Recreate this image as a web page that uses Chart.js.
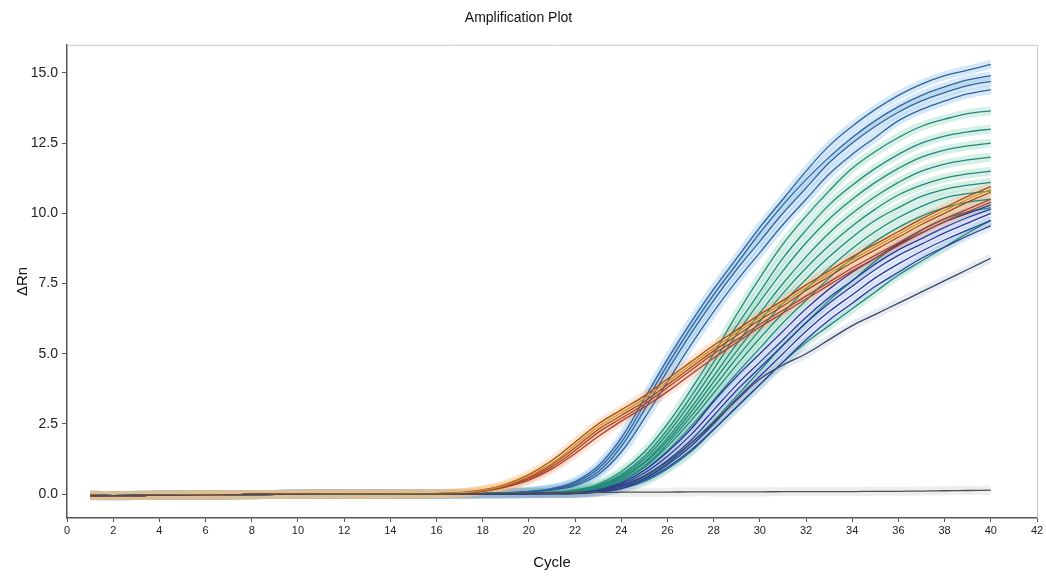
<!DOCTYPE html>
<html>
<head>
<meta charset="utf-8">
<title>Amplification Plot</title>
<script src="https://cdn.jsdelivr.net/npm/chart.js@4/dist/chart.umd.min.js"></script>
<style>
    html, body { margin: 0; padding: 0; background: #fff; }
    #box { width: 1046px; height: 576px; }
</style>
</head>
<body>
<div id="box"><canvas id="chart"></canvas></div>
<script>
'use strict'

var cycles = [1,2,3,4,5,6,7,8,9,10,11,12,13,14,15,16,17,18,19,20,21,22,23,24,25,26,27,28,29,30,31,32,33,34,35,36,37,38,39,40];
var xTicks = [0,2,4,6,8,10,12,14,16,18,20,22,24,26,28,30,32,34,36,38,40,42];
var yTicks = [0, 2.5, 5, 7.5, 10, 12.5, 15];

// blue wells (earliest, highest plateau)
var blue1 = [-0.05,-0.06,-0.05,-0.04,-0.04,-0.03,-0.02,-0.02,-0.01,-0.01,0,0,0,0,0.01,0.01,0.02,0.03,0.05,0.1,0.2,0.45,1.0,2.0,3.4,4.8,6.1,7.3,8.4,9.5,10.5,11.5,12.4,13.1,13.7,14.2,14.6,14.9,15.1,15.3];
var blue2 = [-0.04,-0.05,-0.05,-0.04,-0.03,-0.03,-0.02,-0.01,-0.01,0,0,0,0,0.01,0.01,0.01,0.02,0.03,0.05,0.09,0.18,0.4,0.9,1.85,3.2,4.6,5.9,7.1,8.2,9.3,10.3,11.2,12.0,12.7,13.3,13.8,14.2,14.5,14.75,14.9];
var blue3 = [-0.05,-0.05,-0.04,-0.04,-0.03,-0.02,-0.02,-0.01,-0.01,0,0,0,0,0,0.01,0.01,0.01,0.02,0.04,0.08,0.16,0.35,0.8,1.7,3.0,4.4,5.7,6.9,8.0,9.0,10.0,10.9,11.8,12.5,13.1,13.6,14.0,14.3,14.55,14.7];
var blue4 = [-0.04,-0.05,-0.05,-0.04,-0.03,-0.03,-0.02,-0.02,-0.01,-0.01,0,0,0,0,0,0.01,0.01,0.02,0.04,0.07,0.14,0.3,0.7,1.5,2.7,4.0,5.3,6.5,7.6,8.6,9.6,10.5,11.4,12.1,12.7,13.3,13.7,14.0,14.25,14.4];

// red / orange wells
var red1 = [-0.05,-0.06,-0.05,-0.04,-0.04,-0.03,-0.02,-0.02,-0.01,-0.01,0,0,0,0,0.01,0.02,0.05,0.15,0.35,0.7,1.2,1.85,2.5,3.0,3.5,4.1,4.7,5.3,5.85,6.4,6.9,7.45,7.95,8.45,8.9,9.35,9.8,10.2,10.6,10.95];
var red2 = [-0.04,-0.05,-0.05,-0.04,-0.03,-0.03,-0.02,-0.01,-0.01,0,0,0,0,0.01,0.01,0.02,0.04,0.12,0.3,0.6,1.05,1.65,2.3,2.8,3.3,3.9,4.5,5.1,5.65,6.2,6.7,7.25,7.75,8.25,8.7,9.15,9.6,10.0,10.4,10.75];
var red3 = [-0.05,-0.05,-0.04,-0.04,-0.03,-0.02,-0.02,-0.01,-0.01,0,0,0,0,0,0.01,0.01,0.03,0.1,0.25,0.5,0.9,1.45,2.05,2.6,3.1,3.65,4.25,4.85,5.4,5.95,6.45,6.95,7.45,7.95,8.4,8.85,9.3,9.7,10.05,10.4];
var orange1 = [-0.04,-0.05,-0.05,-0.04,-0.03,-0.03,-0.02,-0.02,-0.01,-0.01,0,0,0,0,0.01,0.02,0.04,0.13,0.32,0.65,1.1,1.75,2.4,2.9,3.4,4.0,4.6,5.2,5.75,6.3,6.8,7.35,7.85,8.35,8.8,9.25,9.7,10.1,10.5,10.85];
var brown1 = [-0.05,-0.05,-0.05,-0.04,-0.03,-0.02,-0.02,-0.01,-0.01,0,0,0,0,0,0.01,0.01,0.03,0.11,0.27,0.55,0.97,1.55,2.2,2.7,3.2,3.8,4.4,5.0,5.5,6.05,6.55,7.05,7.55,8.05,8.5,8.95,9.4,9.8,10.15,10.5];

// teal wells
var teal1 = [-0.05,-0.06,-0.05,-0.04,-0.04,-0.03,-0.02,-0.02,-0.01,-0.01,0,0,0,0,0.01,0.01,0.02,0.02,0.03,0.04,0.07,0.15,0.35,0.8,1.5,2.5,3.7,5.0,6.4,7.7,8.9,9.9,10.8,11.6,12.2,12.7,13.1,13.35,13.55,13.65];
var teal2 = [-0.04,-0.05,-0.05,-0.04,-0.03,-0.03,-0.02,-0.01,-0.01,0,0,0,0,0.01,0.01,0.01,0.02,0.02,0.03,0.04,0.06,0.12,0.3,0.7,1.35,2.3,3.45,4.7,6.0,7.2,8.4,9.4,10.3,11.0,11.6,12.1,12.5,12.75,12.9,13.0];
var teal3 = [-0.05,-0.05,-0.04,-0.04,-0.03,-0.02,-0.02,-0.01,-0.01,0,0,0,0,0,0.01,0.01,0.01,0.02,0.03,0.04,0.06,0.1,0.28,0.65,1.25,2.15,3.25,4.45,5.7,6.85,7.95,8.95,9.8,10.5,11.1,11.6,12.0,12.25,12.4,12.5];
var teal4 = [-0.04,-0.05,-0.05,-0.04,-0.03,-0.03,-0.02,-0.02,-0.01,-0.01,0,0,0,0,0,0.01,0.01,0.02,0.02,0.03,0.05,0.1,0.25,0.6,1.15,2.0,3.05,4.2,5.35,6.45,7.5,8.45,9.3,10.0,10.6,11.1,11.5,11.75,11.9,12.0];
var teal5 = [-0.05,-0.05,-0.05,-0.04,-0.03,-0.02,-0.02,-0.01,-0.01,0,0,0,0,0,0.01,0.01,0.02,0.02,0.02,0.03,0.04,0.08,0.22,0.55,1.1,1.9,2.9,4.0,5.1,6.15,7.15,8.05,8.85,9.55,10.15,10.65,11.0,11.25,11.4,11.5];
var teal6 = [-0.04,-0.05,-0.04,-0.04,-0.03,-0.03,-0.02,-0.01,-0.01,0,0,0,0,0,0.01,0.01,0.01,0.02,0.02,0.03,0.04,0.08,0.2,0.5,1.0,1.8,2.75,3.8,4.85,5.85,6.8,7.65,8.45,9.15,9.75,10.2,10.6,10.85,11.0,11.1];
var teal7 = [-0.05,-0.06,-0.05,-0.04,-0.03,-0.03,-0.02,-0.02,-0.01,-0.01,0,0,0,0,0.01,0.01,0.01,0.01,0.02,0.03,0.04,0.07,0.18,0.45,0.95,1.7,2.6,3.6,4.6,5.55,6.45,7.3,8.05,8.75,9.35,9.85,10.25,10.55,10.7,10.8];
var teal8 = [-0.04,-0.05,-0.05,-0.04,-0.04,-0.03,-0.02,-0.01,-0.01,0,0,0,0,0,0,0.01,0.01,0.01,0.02,0.02,0.03,0.06,0.16,0.4,0.85,1.55,2.4,3.35,4.3,5.2,6.1,6.9,7.7,8.4,9.0,9.5,9.9,10.2,10.4,10.5];
var teal9 = [-0.05,-0.05,-0.04,-0.04,-0.03,-0.02,-0.02,-0.01,-0.01,0,0,0,0,0,0.01,0.01,0.01,0.01,0.02,0.02,0.03,0.05,0.12,0.3,0.6,1.1,1.8,2.6,3.5,4.4,5.3,6.1,6.9,7.6,8.3,8.9,9.4,9.8,10.05,10.2];
var teal10 = [-0.04,-0.05,-0.05,-0.04,-0.03,-0.03,-0.02,-0.02,-0.01,-0.01,0,0,0,0,0,0.01,0.01,0.01,0.01,0.02,0.02,0.03,0.08,0.2,0.45,0.9,1.5,2.3,3.1,3.9,4.7,5.4,6.0,6.6,7.2,7.8,8.3,8.8,9.3,9.75];

// dark blue wells
var navy1 = [-0.05,-0.05,-0.05,-0.04,-0.03,-0.03,-0.02,-0.01,-0.01,0,0,0,0,0,0.01,0.01,0.01,0.01,0.01,0.02,0.03,0.05,0.15,0.4,0.85,1.5,2.3,3.3,4.2,5.0,5.8,6.6,7.3,7.9,8.4,8.9,9.3,9.7,10.0,10.3];
var navy2 = [-0.04,-0.05,-0.05,-0.04,-0.04,-0.03,-0.02,-0.02,-0.01,-0.01,0,0,0,0,0,0.01,0.01,0.01,0.01,0.02,0.03,0.04,0.12,0.35,0.75,1.35,2.1,3.0,3.9,4.7,5.5,6.3,7.0,7.6,8.2,8.7,9.1,9.5,9.85,10.15];
var navy3 = [-0.05,-0.06,-0.05,-0.04,-0.03,-0.02,-0.02,-0.01,-0.01,0,0,0,0,0,0.01,0.01,0.01,0.01,0.01,0.02,0.02,0.03,0.1,0.3,0.65,1.2,1.9,2.8,3.7,4.5,5.3,6.1,6.8,7.4,8.0,8.5,8.9,9.3,9.65,10.0];
var navy4 = [-0.04,-0.05,-0.04,-0.04,-0.03,-0.03,-0.02,-0.01,-0.01,0,0,0,0,0,0,0.01,0.01,0.01,0.01,0.01,0.02,0.03,0.08,0.25,0.55,1.05,1.7,2.5,3.4,4.2,5.0,5.8,6.5,7.1,7.7,8.2,8.65,9.05,9.4,9.75];
var navy5 = [-0.05,-0.05,-0.05,-0.04,-0.03,-0.02,-0.02,-0.02,-0.01,-0.01,0,0,0,0,0,0.01,0.01,0.01,0.01,0.01,0.02,0.02,0.07,0.2,0.5,0.95,1.55,2.3,3.1,3.9,4.7,5.5,6.2,6.8,7.4,7.9,8.4,8.8,9.2,9.55];
var slate1 = [-0.04,-0.05,-0.05,-0.04,-0.03,-0.03,-0.02,-0.01,-0.01,0,0,0,0,0,0.01,0.01,0.01,0.01,0.01,0.02,0.02,0.03,0.1,0.3,0.65,1.15,1.8,2.55,3.35,4.1,4.6,5.0,5.5,6.0,6.4,6.8,7.2,7.6,8.0,8.4];

// no template control
var ntc = [-0.05,-0.05,-0.05,-0.04,-0.04,-0.03,-0.02,-0.02,-0.01,-0.01,0,0,0,0,0,0.01,0.01,0.02,0.03,0.04,0.05,0.06,0.06,0.07,0.07,0.07,0.08,0.08,0.08,0.08,0.09,0.09,0.09,0.09,0.1,0.1,0.11,0.12,0.13,0.14];

// first group ends up drawn on top
var groups = [
    { series: [ntc], line: '#505050', halo: 'rgba(170,170,170,0.2)' },
    { series: [orange1], line: '#c99230', halo: 'rgba(250,228,130,0.45)' },
    { series: [red1, red2, red3, brown1], line: '#a9442c', halo: 'rgba(240,165,135,0.28)' },
    { series: [slate1], line: '#3b4766', halo: 'rgba(160,175,205,0.25)' },
    { series: [navy1, navy2, navy3, navy4, navy5], line: '#2b3b98', halo: 'rgba(160,180,235,0.25)' },
    { series: [teal1, teal2, teal3, teal4, teal5, teal6, teal7, teal8, teal9, teal10], line: '#23897a', halo: 'rgba(110,200,170,0.28)' },
    { series: [blue1, blue2, blue3, blue4], line: '#33639a', halo: 'rgba(135,190,232,0.35)' }
];

var font = "'Liberation Sans Narrow', 'Liberation Sans', Arial, sans-serif";

function toPoints(values) {
    return cycles.map(function (c, i) { return { x: c, y: values[i] }; });
}

var datasets = [];
groups.forEach(function (group) {
    group.series.forEach(function (values) {
        datasets.push({
            data: toPoints(values), borderColor: group.halo, borderWidth: 9,
            pointRadius: 0, tension: 0.4, order: 1
        });
        datasets.push({
            data: toPoints(values), borderColor: group.line, borderWidth: 1.3,
            pointRadius: 0, tension: 0.4, order: 0
        });
    });
});

// light frame round the plot, darker left and bottom axes
var frame = {
    id: 'frame',
    afterDraw: function (chart) {
        var a = chart.chartArea, ctx = chart.ctx;
        ctx.save();
        ctx.strokeStyle = '#c8c8c8';
        ctx.lineWidth = 1;
        ctx.beginPath();
        ctx.moveTo(a.left, a.top + 0.5);
        ctx.lineTo(a.right + 0.5, a.top + 0.5);
        ctx.lineTo(a.right + 0.5, a.bottom);
        ctx.stroke();
        ctx.restore();
    }
};

new Chart(document.getElementById('chart'), {
    type: 'line',
    data: { datasets: datasets },
    plugins: [frame],
    options: {
        responsive: true,
        maintainAspectRatio: false,
        animation: false,
        layout: { padding: { left: 0, right: 9, top: 0, bottom: 0 } },
        plugins: {
            legend: { display: false },
            tooltip: { enabled: false },
            title: {
                display: true,
                text: 'Amplification Plot',
                color: '#111',
                font: { family: font, size: 14, weight: 'normal' },
                padding: { top: 10, bottom: 18 }
            }
        },
        scales: {
            x: {
                type: 'linear', min: 0, max: 42,
                afterBuildTicks: function (scale) {
                    scale.ticks = xTicks.map(function (v) { return { value: v }; });
                },
                afterFit: function (scale) { scale.height = 58; },
                ticks: { color: '#222', font: { family: font, size: 11 }, padding: 2, maxRotation: 0 },
                grid: { drawOnChartArea: false, tickLength: 4, color: '#555' },
                border: { color: '#555', width: 1.5 },
                title: { display: true, text: 'Cycle', color: '#111', font: { family: font, size: 15 }, padding: { top: 0, bottom: 4 } }
            },
            y: {
                min: -0.85, max: 16.0,
                afterBuildTicks: function (scale) {
                    scale.ticks = yTicks.map(function (v) { return { value: v }; });
                },
                afterFit: function (scale) { scale.width = 67; },
                ticks: {
                    color: '#222', font: { family: font, size: 14 }, padding: 4,
                    callback: function (value) { return value.toFixed(1); }
                },
                grid: { drawOnChartArea: false, tickLength: 5, color: '#555' },
                border: { color: '#555', width: 1.5 },
                title: { display: true, text: 'ΔRn', color: '#111', font: { family: font, size: 15 }, padding: { top: 14, bottom: 0 } }
            }
        }
    }
});
</script>
</body>
</html>
